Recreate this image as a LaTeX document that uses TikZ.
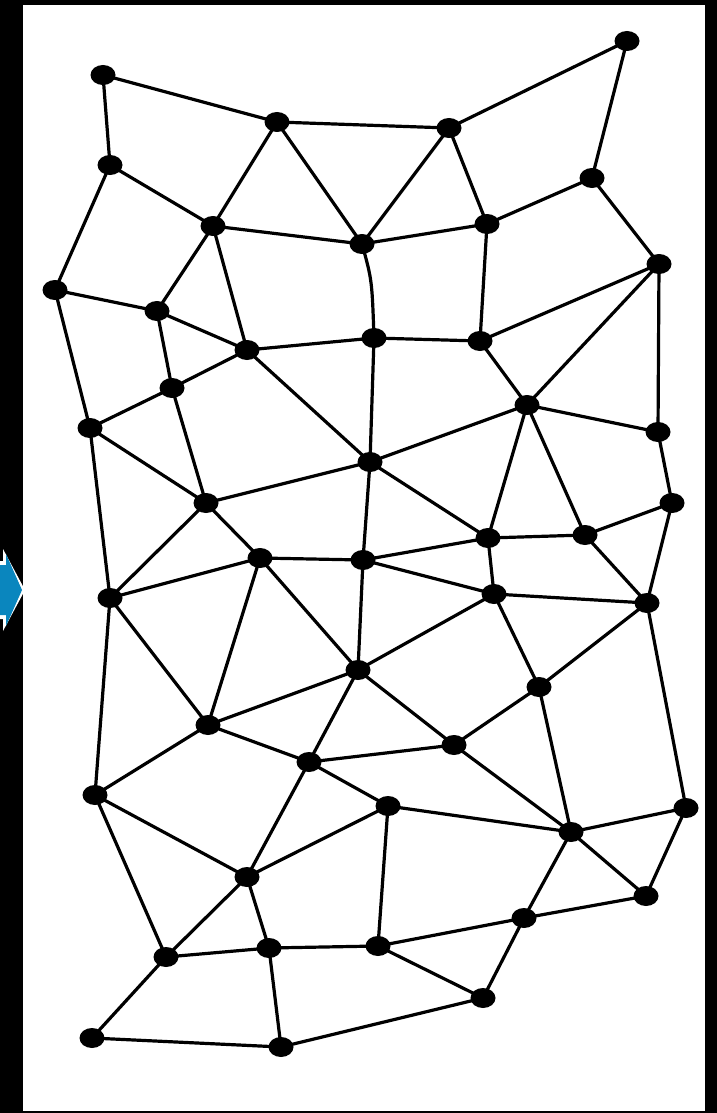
\documentclass[tikz,border=0pt]{standalone}
\usetikzlibrary{shapes.geometric}
\begin{document}
\begin{tikzpicture}[x=1pt,y=-1pt,
  vtx/.style={ellipse,fill=black,inner sep=0pt,minimum width=25pt,minimum height=20pt},
  edge/.style={line width=3.2pt,black}]
\useasboundingbox (0,0) rectangle (717,1113);
\fill[black] (0,0) rectangle (717,1113);
\fill[white] (23,5) rectangle (705,1111);
% blue arrow (partly visible)
\fill[white] (-2,561) -- (3,561) -- (3,549) -- (25,590) -- (3,631) -- (3,619) -- (-2,619) -- cycle;
\fill[fill={rgb,255:red,10;green,134;blue,190}] (-2,565) -- (6,565) -- (6,554) -- (22,590) -- (6,626) -- (6,615) -- (-2,615) -- cycle;
% nodes
\node[vtx] (A) at (103,75) {};
\node[vtx] (B) at (277,122) {};
\node[vtx] (C) at (449,128) {};
\node[vtx] (D) at (627,41) {};
\node[vtx] (E) at (110,165) {};
\node[vtx] (F) at (213,226) {};
\node[vtx] (G) at (362,244) {};
\node[vtx] (H) at (487,224) {};
\node[vtx] (I) at (592,178) {};
\node[vtx] (J) at (659,264) {};
\node[vtx] (K) at (55,290) {};
\node[vtx] (L) at (157,311) {};
\node[vtx] (M) at (247,350) {};
\node[vtx] (N) at (374,338) {};
\node[vtx] (O) at (480,341) {};
\node[vtx] (P) at (172,388) {};
\node[vtx] (Q) at (90,428) {};
\node[vtx] (R) at (527,405) {};
\node[vtx] (S) at (658,432) {};
\node[vtx] (T) at (370,462) {};
\node[vtx] (U) at (206,503) {};
\node[vtx] (V) at (488,538) {};
\node[vtx] (W) at (585,535) {};
\node[vtx] (X) at (672,503) {};
\node[vtx] (Y) at (260,558) {};
\node[vtx] (Z) at (363,560) {};
\node[vtx] (AA) at (110,598) {};
\node[vtx] (AB) at (494,594) {};
\node[vtx] (AC) at (647,603) {};
\node[vtx] (AD) at (358,670) {};
\node[vtx] (AE) at (539,687) {};
\node[vtx] (AF) at (208,725) {};
\node[vtx] (AG) at (454,745) {};
\node[vtx] (AH) at (309,762) {};
\node[vtx] (AI) at (95,795) {};
\node[vtx] (AJ) at (388,806) {};
\node[vtx] (AK) at (571,832) {};
\node[vtx] (AL) at (686,808) {};
\node[vtx] (AM) at (247,877) {};
\node[vtx] (AN) at (646,896) {};
\node[vtx] (AO) at (524,918) {};
\node[vtx] (AP) at (166,957) {};
\node[vtx] (AQ) at (269,948) {};
\node[vtx] (AR) at (378,946) {};
\node[vtx] (AS) at (483,998) {};
\node[vtx] (AT) at (92,1038) {};
\node[vtx] (AU) at (281,1047) {};
% edges
\draw[edge] (G.center) .. controls (372,280) .. (N.center);
\foreach \a/\b in {A/B,A/E,B/C,B/F,B/G,C/D,C/G,C/H,D/I,E/F,E/K,F/G,F/L,F/M,G/H,H/I,H/O,I/J,J/O,J/R,J/S,
  K/L,K/Q,L/M,L/P,M/N,M/P,M/T,N/O,N/T,O/R,P/Q,P/U,Q/U,Q/AA,R/S,R/T,R/V,R/W,S/X,T/U,T/V,T/Z,
  U/Y,U/AA,V/W,V/Z,V/AB,W/X,W/AC,X/AC,Y/Z,Y/AA,Y/AD,Y/AF,Z/AB,Z/AD,AA/AF,AA/AI,AB/AC,AB/AE,AB/AD,
  AC/AE,AC/AL,AD/AG,AD/AF,AD/AH,AE/AG,AE/AK,AF/AH,AF/AI,AG/AH,AG/AK,AH/AJ,AH/AM,AI/AM,AI/AP,
  AJ/AK,AJ/AR,AJ/AM,AK/AL,AK/AN,AK/AO,AL/AN,AM/AP,AM/AQ,AN/AO,AO/AR,AO/AS,AR/AS,AS/AU,AP/AQ,AQ/AR,AQ/AU,AP/AT,AT/AU}
  {\draw[edge] (\a.center) -- (\b.center);}
\end{tikzpicture}
\end{document}
